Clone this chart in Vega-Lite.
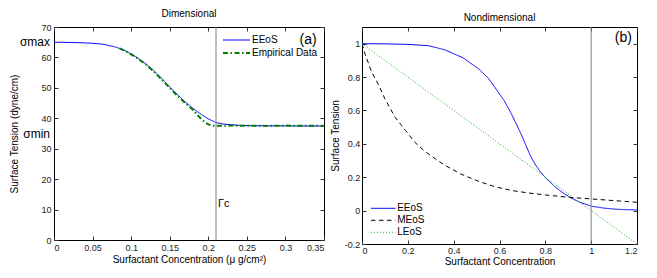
{
  "$schema": "https://vega.github.io/schema/vega-lite/v6.json",
  "padding": {"left": 9, "top": 8, "right": 5, "bottom": 5},
  "background": "white",
  "bounds": "flush",
  "spacing": 38,
  "config": {
    "font": "Liberation Sans",
    "view": {"stroke": "#000000", "strokeWidth": 1},
    "axis": {
      "tickSize": -4, "tickColor": "#333333", "domain": false, "grid": false,
      "labelFontSize": 9, "labelColor": "#222222", "labelFont": "Liberation Sans",
      "titleFontSize": 10, "titleFontWeight": "normal", "titleColor": "#000000", "titleFont": "Liberation Sans"
    },
    "title": {"fontSize": 10, "fontWeight": "normal", "offset": 4, "frame": "group", "font": "Liberation Sans", "color": "#000000"},
    "legend": {
      "orient": "none", "title": null, "padding": 0, "rowPadding": 0,
      "labelFontSize": 10, "labelFont": "Liberation Sans", "labelColor": "#000000",
      "labelOffset": 1, "symbolType": "stroke", "labelBaseline": "middle"
    }
  },
  "datasets": {
    "dimensional": [
      {"series": "EEoS", "c": 0.0, "st": 65.0},
      {"series": "EEoS", "c": 0.01, "st": 64.97},
      {"series": "EEoS", "c": 0.02, "st": 64.92},
      {"series": "EEoS", "c": 0.03, "st": 64.87},
      {"series": "EEoS", "c": 0.04, "st": 64.78},
      {"series": "EEoS", "c": 0.05, "st": 64.65},
      {"series": "EEoS", "c": 0.06, "st": 64.45},
      {"series": "EEoS", "c": 0.07, "st": 64.0},
      {"series": "EEoS", "c": 0.08, "st": 63.4},
      {"series": "EEoS", "c": 0.09, "st": 62.5},
      {"series": "EEoS", "c": 0.1, "st": 61.2},
      {"series": "EEoS", "c": 0.11, "st": 59.6},
      {"series": "EEoS", "c": 0.12, "st": 57.7},
      {"series": "EEoS", "c": 0.13, "st": 55.5},
      {"series": "EEoS", "c": 0.14, "st": 53.0},
      {"series": "EEoS", "c": 0.15, "st": 50.3},
      {"series": "EEoS", "c": 0.16, "st": 47.8},
      {"series": "EEoS", "c": 0.17, "st": 45.4},
      {"series": "EEoS", "c": 0.18, "st": 43.3},
      {"series": "EEoS", "c": 0.19, "st": 41.4},
      {"series": "EEoS", "c": 0.2, "st": 39.8},
      {"series": "EEoS", "c": 0.21, "st": 38.6},
      {"series": "EEoS", "c": 0.22, "st": 38.1},
      {"series": "EEoS", "c": 0.23, "st": 37.85},
      {"series": "EEoS", "c": 0.24, "st": 37.7},
      {"series": "EEoS", "c": 0.25, "st": 37.6},
      {"series": "EEoS", "c": 0.27, "st": 37.55},
      {"series": "EEoS", "c": 0.3, "st": 37.5},
      {"series": "EEoS", "c": 0.35, "st": 37.45},
      {"series": "Empirical Data", "c": 0.085, "st": 63.0},
      {"series": "Empirical Data", "c": 0.09, "st": 62.4},
      {"series": "Empirical Data", "c": 0.1, "st": 61.0},
      {"series": "Empirical Data", "c": 0.11, "st": 59.4},
      {"series": "Empirical Data", "c": 0.12, "st": 57.5},
      {"series": "Empirical Data", "c": 0.13, "st": 55.2},
      {"series": "Empirical Data", "c": 0.14, "st": 52.7},
      {"series": "Empirical Data", "c": 0.15, "st": 50.0},
      {"series": "Empirical Data", "c": 0.16, "st": 47.4},
      {"series": "Empirical Data", "c": 0.17, "st": 45.0},
      {"series": "Empirical Data", "c": 0.18, "st": 42.8},
      {"series": "Empirical Data", "c": 0.185, "st": 41.3},
      {"series": "Empirical Data", "c": 0.19, "st": 40.0},
      {"series": "Empirical Data", "c": 0.195, "st": 38.8},
      {"series": "Empirical Data", "c": 0.2, "st": 38.0},
      {"series": "Empirical Data", "c": 0.205, "st": 37.6},
      {"series": "Empirical Data", "c": 0.21, "st": 37.5},
      {"series": "Empirical Data", "c": 0.23, "st": 37.6},
      {"series": "Empirical Data", "c": 0.25, "st": 37.55},
      {"series": "Empirical Data", "c": 0.28, "st": 37.5},
      {"series": "Empirical Data", "c": 0.3, "st": 37.6},
      {"series": "Empirical Data", "c": 0.35, "st": 37.5}
    ],
    "nondimensional": [
      {"series": "EEoS", "c": 0.0, "st": 1.0},
      {"series": "EEoS", "c": 0.1, "st": 0.999},
      {"series": "EEoS", "c": 0.2, "st": 0.996},
      {"series": "EEoS", "c": 0.29, "st": 0.988},
      {"series": "EEoS", "c": 0.36, "st": 0.964},
      {"series": "EEoS", "c": 0.44, "st": 0.916},
      {"series": "EEoS", "c": 0.51, "st": 0.848},
      {"series": "EEoS", "c": 0.55, "st": 0.795},
      {"series": "EEoS", "c": 0.58, "st": 0.738},
      {"series": "EEoS", "c": 0.62, "st": 0.66},
      {"series": "EEoS", "c": 0.65, "st": 0.585},
      {"series": "EEoS", "c": 0.68, "st": 0.5},
      {"series": "EEoS", "c": 0.7, "st": 0.44},
      {"series": "EEoS", "c": 0.72, "st": 0.375},
      {"series": "EEoS", "c": 0.74, "st": 0.315},
      {"series": "EEoS", "c": 0.76, "st": 0.268},
      {"series": "EEoS", "c": 0.78, "st": 0.23},
      {"series": "EEoS", "c": 0.8, "st": 0.198},
      {"series": "EEoS", "c": 0.84, "st": 0.145},
      {"series": "EEoS", "c": 0.875, "st": 0.108},
      {"series": "EEoS", "c": 0.91, "st": 0.077},
      {"series": "EEoS", "c": 0.95, "st": 0.05},
      {"series": "EEoS", "c": 1.0, "st": 0.027},
      {"series": "EEoS", "c": 1.05, "st": 0.016},
      {"series": "EEoS", "c": 1.1, "st": 0.009},
      {"series": "EEoS", "c": 1.15, "st": 0.006},
      {"series": "EEoS", "c": 1.2, "st": 0.004},
      {"series": "MEoS", "c": 0.0, "st": 1.0},
      {"series": "MEoS", "c": 0.013, "st": 0.94},
      {"series": "MEoS", "c": 0.042, "st": 0.83},
      {"series": "MEoS", "c": 0.07, "st": 0.76},
      {"series": "MEoS", "c": 0.1, "st": 0.67},
      {"series": "MEoS", "c": 0.144, "st": 0.56},
      {"series": "MEoS", "c": 0.19, "st": 0.48},
      {"series": "MEoS", "c": 0.23, "st": 0.41},
      {"series": "MEoS", "c": 0.27, "st": 0.36},
      {"series": "MEoS", "c": 0.32, "st": 0.31},
      {"series": "MEoS", "c": 0.364, "st": 0.27},
      {"series": "MEoS", "c": 0.43, "st": 0.22},
      {"series": "MEoS", "c": 0.51, "st": 0.175},
      {"series": "MEoS", "c": 0.58, "st": 0.143},
      {"series": "MEoS", "c": 0.655, "st": 0.12},
      {"series": "MEoS", "c": 0.73, "st": 0.105},
      {"series": "MEoS", "c": 0.8, "st": 0.094},
      {"series": "MEoS", "c": 0.9, "st": 0.08},
      {"series": "MEoS", "c": 1.0, "st": 0.07},
      {"series": "MEoS", "c": 1.1, "st": 0.06},
      {"series": "MEoS", "c": 1.2, "st": 0.05},
      {"series": "LEoS", "c": 0.0, "st": 1.0},
      {"series": "LEoS", "c": 0.6, "st": 0.4},
      {"series": "LEoS", "c": 1.2, "st": -0.2}
    ],
    "leftSigma": [
      {"label": "σmax", "st": 65.2},
      {"label": "σmin", "st": 35.0}
    ],
    "leftGamma": [{"label": "Γc", "c": 0.21, "st": 11.8}],
    "leftTag": [{"label": "(a)", "c": 0.3405, "st": 65.7}],
    "rightCritical": [{"c": 1.0}],
    "rightTag": [{"label": "(b)", "c": 1.178, "st": 1.034}]
  },
  "resolve": {
    "scale": {"color": "independent", "strokeDash": "independent", "strokeWidth": "independent"},
    "legend": {"color": "independent", "strokeDash": "independent", "strokeWidth": "independent"}
  },
  "hconcat": [
    {
      "title": "Dimensional",
      "width": 270,
      "height": 213,
      "resolve": {"axis": {"x": "independent", "y": "independent"}},
      "layer": [
        {
          "data": {"name": "dimensional"},
          "mark": {"type": "line", "clip": true, "strokeCap": "butt"},
          "encoding": {
            "x": {"field": "c", "type": "quantitative",
              "scale": {"domain": [0, 0.35], "nice": false, "zero": false},
              "axis": {"orient": "bottom", "title": "Surfactant Concentration (μ g/cm²)",
                "values": [0, 0.05, 0.1, 0.15, 0.2, 0.25, 0.3, 0.35], "format": ".2~f",
                "labelPadding": 7, "titlePadding": 2}},
            "y": {"field": "st", "type": "quantitative",
              "scale": {"domain": [0, 70], "nice": false, "zero": false},
              "axis": {"orient": "left", "title": "Surface Tension (dyne/cm)",
                "values": [0, 10, 20, 30, 40, 50, 60, 70],
                "labelPadding": 7, "titlePadding": 21}},
            "color": {"field": "series", "type": "nominal",
              "scale": {"domain": ["EEoS", "Empirical Data"], "range": ["#0000ff", "#008000"]},
              "legend": {"legendX": 168, "legendY": 6.5, "clipHeight": 13, "symbolSize": 729}},
            "strokeDash": {"field": "series", "type": "nominal",
              "scale": {"domain": ["EEoS", "Empirical Data"], "range": [[1, 0], [5, 2.5, 1.5, 2.5]]},
              "legend": {"legendX": 168, "legendY": 6.5, "clipHeight": 13, "symbolSize": 729}},
            "strokeWidth": {"field": "series", "type": "nominal",
              "scale": {"domain": ["EEoS", "Empirical Data"], "range": [1, 2]},
              "legend": {"legendX": 168, "legendY": 6.5, "clipHeight": 13, "symbolSize": 729}}
          }
        },
        {
          "data": {"name": "leftGamma"},
          "mark": {"type": "rule", "color": "#808080", "strokeWidth": 1},
          "encoding": {
            "x": {"field": "c", "type": "quantitative",
              "scale": {"domain": [0, 0.35], "nice": false, "zero": false},
              "axis": {"orient": "top", "labels": false, "title": null,
                "values": [0, 0.05, 0.1, 0.15, 0.2, 0.25, 0.3, 0.35]}}
          }
        },
        {
          "data": {"name": "leftGamma"},
          "mark": {"type": "text", "align": "left", "baseline": "middle", "dx": 2, "fontSize": 11, "color": "#000000"},
          "encoding": {
            "x": {"field": "c", "type": "quantitative", "scale": {"domain": [0, 0.35], "nice": false, "zero": false}, "axis": null},
            "y": {"field": "st", "type": "quantitative",
              "scale": {"domain": [0, 70], "nice": false, "zero": false},
              "axis": {"orient": "right", "labels": false, "title": null,
                "values": [0, 10, 20, 30, 40, 50, 60, 70]}},
            "text": {"field": "label"}
          }
        },
        {
          "data": {"name": "leftSigma"},
          "mark": {"type": "text", "align": "right", "baseline": "middle", "dx": -4, "fontSize": 12, "color": "#000000"},
          "encoding": {
            "x": {"datum": 0, "type": "quantitative", "scale": {"domain": [0, 0.35], "nice": false, "zero": false}, "axis": null},
            "y": {"field": "st", "type": "quantitative", "scale": {"domain": [0, 70], "nice": false, "zero": false}, "axis": null},
            "text": {"field": "label"}
          }
        },
        {
          "data": {"name": "leftTag"},
          "mark": {"type": "text", "align": "right", "baseline": "middle", "fontSize": 14, "color": "#000000"},
          "encoding": {
            "x": {"field": "c", "type": "quantitative", "scale": {"domain": [0, 0.35], "nice": false, "zero": false}, "axis": null},
            "y": {"field": "st", "type": "quantitative", "scale": {"domain": [0, 70], "nice": false, "zero": false}, "axis": null},
            "text": {"field": "label"}
          }
        }
      ]
    },
    {
      "title": "Nondimensional",
      "width": 275,
      "height": 217,
      "resolve": {"axis": {"x": "independent", "y": "independent"}},
      "layer": [
        {
          "data": {"name": "nondimensional"},
          "mark": {"type": "line", "clip": true, "strokeCap": "butt", "strokeWidth": 1},
          "encoding": {
            "x": {"field": "c", "type": "quantitative",
              "scale": {"domain": [0, 1.2], "nice": false, "zero": false},
              "axis": {"orient": "bottom", "title": "Surfactant Concentration",
                "values": [0, 0.2, 0.4, 0.6, 0.8, 1, 1.2], "format": ".1~f",
                "labelPadding": 6, "titlePadding": 1}},
            "y": {"field": "st", "type": "quantitative",
              "scale": {"domain": [-0.2, 1.1], "nice": false, "zero": false},
              "axis": {"orient": "left", "title": "Surface Tension",
                "values": [-0.2, 0, 0.2, 0.4, 0.6, 0.8, 1], "format": ".1~f",
                "labelExpr": "replace(datum.label, '−', '-')",
                "labelPadding": 6.3, "titlePadding": 3.5}},
            "color": {"field": "series", "type": "nominal",
              "scale": {"domain": ["EEoS", "MEoS", "LEoS"], "range": ["#0000ff", "#000000", "#22aa22"]},
              "legend": {"legendX": 8.2, "legendY": 175.3, "clipHeight": 12, "symbolSize": 600, "symbolStrokeWidth": 1}},
            "strokeDash": {"field": "series", "type": "nominal",
              "scale": {"domain": ["EEoS", "MEoS", "LEoS"], "range": [[1, 0], [4.5, 3.5], [1, 2]]},
              "legend": {"legendX": 8.2, "legendY": 175.3, "clipHeight": 12, "symbolSize": 600, "symbolStrokeWidth": 1}}
          }
        },
        {
          "data": {"name": "rightCritical"},
          "mark": {"type": "rule", "color": "#808080", "strokeWidth": 1},
          "encoding": {
            "x": {"field": "c", "type": "quantitative",
              "scale": {"domain": [0, 1.2], "nice": false, "zero": false},
              "axis": {"orient": "top", "labels": false, "title": null,
                "values": [0, 0.2, 0.4, 0.6, 0.8, 1, 1.2]}}
          }
        },
        {
          "data": {"name": "rightTag"},
          "mark": {"type": "text", "align": "right", "baseline": "middle", "fontSize": 14, "color": "#000000"},
          "encoding": {
            "x": {"field": "c", "type": "quantitative", "scale": {"domain": [0, 1.2], "nice": false, "zero": false}, "axis": null},
            "y": {"field": "st", "type": "quantitative",
              "scale": {"domain": [-0.2, 1.1], "nice": false, "zero": false},
              "axis": {"orient": "right", "labels": false, "title": null,
                "values": [-0.2, 0, 0.2, 0.4, 0.6, 0.8, 1]}},
            "text": {"field": "label"}
          }
        }
      ]
    }
  ]
}
